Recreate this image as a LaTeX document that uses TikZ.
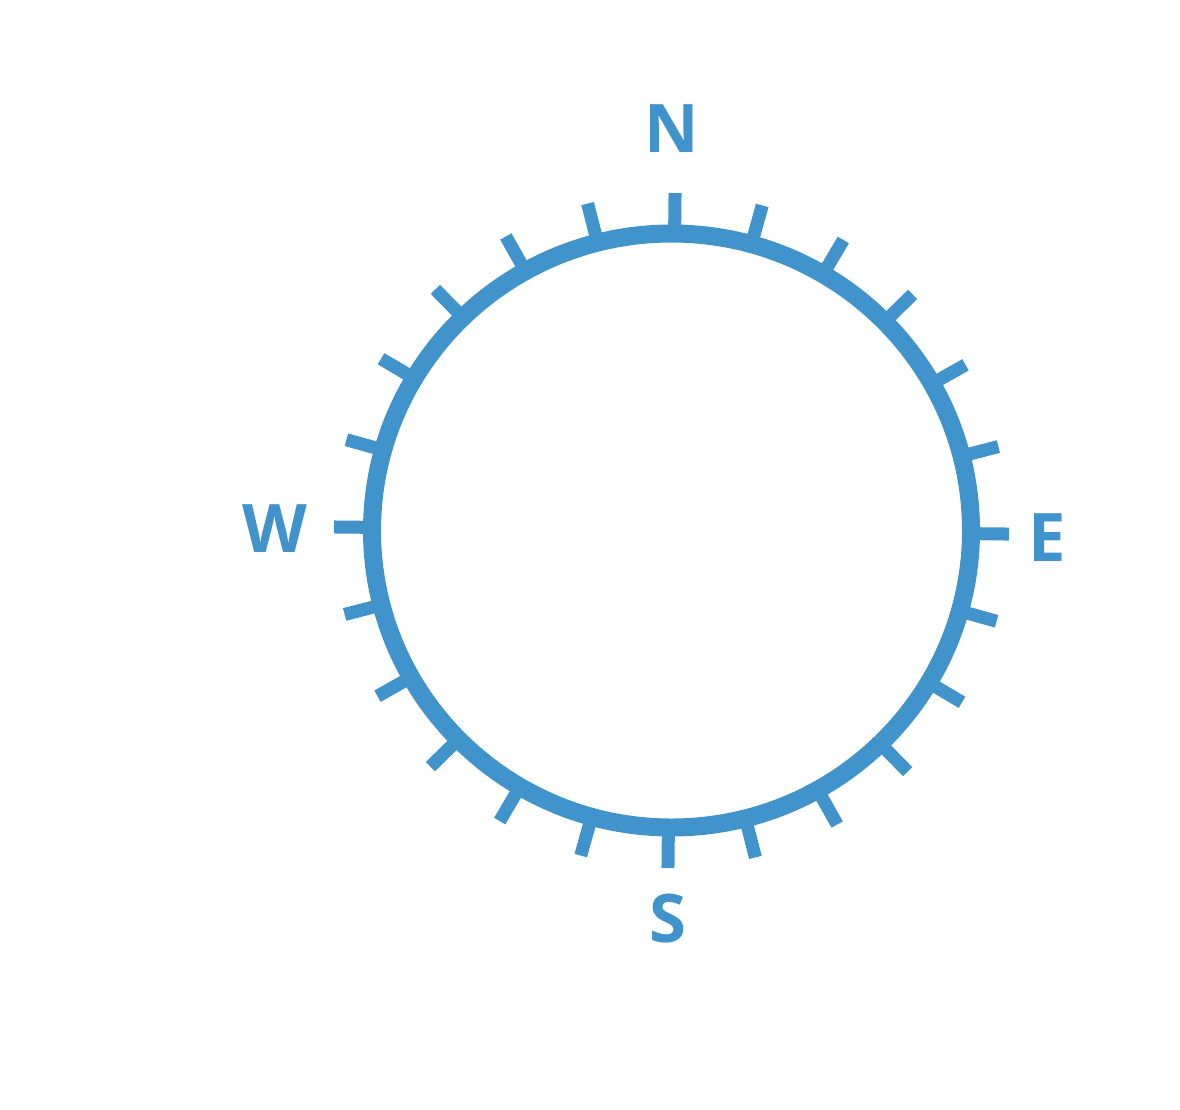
\documentclass[tikz,border=0pt]{standalone}
\usepackage{fontspec}
\setmainfont{Open Sans}
\usetikzlibrary{calc}
\definecolor{compass}{HTML}{4193CC}
\begin{document}
\begin{tikzpicture}[x=1pt,y=-1pt,
  ring/.style={draw=compass,line width=18pt},
  tickmark/.style={draw=compass,line width=13pt},
  dirlabel/.style={text=compass,font=\fontsize{67}{67}\selectfont\bfseries,inner sep=0pt,anchor=center}]
\useasboundingbox (0,0) rectangle (1180,1109);
\coordinate (c) at (671.5,530.5);
\draw[ring] (c) circle [x radius=299.5, y radius=297];
\foreach \a in {0,15,...,345}{
  \draw[tickmark] ($(c)+(\a+0.6:296)$) -- ($(c)+(\a+0.6:337.5)$);
}
\node[dirlabel] (N) at (672,129) {N};
\node[dirlabel] (S) at (668,919) {S};
\node[dirlabel] (W) at (275,529) {W};
\node[dirlabel] (E) at (1047,538) {E};
\end{tikzpicture}
\end{document}
